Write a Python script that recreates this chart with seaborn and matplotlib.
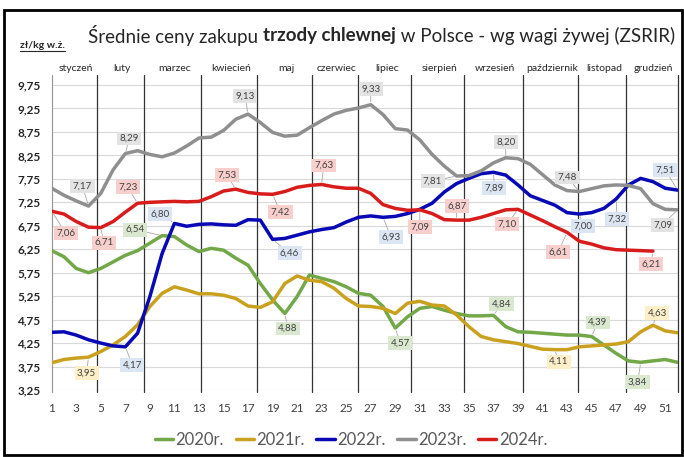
import numpy as np
import pandas as pd
import matplotlib
matplotlib.use("Agg")
import matplotlib.pyplot as plt
import matplotlib.transforms as mtransforms
from matplotlib.lines import Line2D
import seaborn as sns

# ---------------- data ----------------
weeks = list(range(1, 53))
y2020 = [6.22, 6.09, 5.84, 5.75, 5.84, 5.98, 6.12, 6.22, 6.38, 6.54, 6.52, 6.34, 6.20,
         6.27, 6.23, 6.06, 5.91, 5.52, 5.17, 4.88, 5.24, 5.70, 5.63, 5.56, 5.45, 5.31,
         5.27, 5.03, 4.57, 4.81, 4.99, 5.03, 4.95, 4.88, 4.83, 4.83, 4.84, 4.60, 4.49,
         4.48, 4.46, 4.44, 4.42, 4.42, 4.39, 4.21, 4.03, 3.87, 3.84, 3.87, 3.90, 3.84]
y2021 = [3.83, 3.90, 3.93, 3.95, 4.07, 4.21, 4.39, 4.64, 5.03, 5.31, 5.45, 5.38, 5.30,
         5.30, 5.27, 5.20, 5.04, 5.01, 5.13, 5.52, 5.68, 5.59, 5.56, 5.42, 5.20, 5.04,
         5.03, 4.99, 4.88, 5.10, 5.14, 5.06, 5.04, 4.85, 4.60, 4.39, 4.32, 4.28, 4.24,
         4.18, 4.12, 4.11, 4.11, 4.17, 4.19, 4.21, 4.23, 4.28, 4.49, 4.63, 4.51, 4.47]
y2022 = [4.48, 4.49, 4.42, 4.32, 4.25, 4.19, 4.17, 4.46, 5.24, 6.16, 6.80, 6.74, 6.78,
         6.79, 6.77, 6.76, 6.88, 6.87, 6.46, 6.48, 6.55, 6.62, 6.67, 6.71, 6.83, 6.93,
         6.96, 6.93, 6.95, 7.01, 7.10, 7.23, 7.47, 7.65, 7.76, 7.86, 7.89, 7.83, 7.62,
         7.39, 7.29, 7.19, 7.03, 7.00, 7.03, 7.12, 7.32, 7.62, 7.76, 7.69, 7.55, 7.51]
y2023 = [7.55, 7.40, 7.28, 7.17, 7.44, 7.94, 8.29, 8.35, 8.27, 8.22, 8.30, 8.45, 8.62,
         8.64, 8.78, 9.02, 9.13, 8.95, 8.74, 8.66, 8.68, 8.84, 8.99, 9.13, 9.21, 9.26,
         9.33, 9.12, 8.82, 8.79, 8.58, 8.27, 8.02, 7.81, 7.82, 7.92, 8.09, 8.20, 8.18,
         8.06, 7.84, 7.62, 7.50, 7.48, 7.54, 7.60, 7.62, 7.61, 7.54, 7.22, 7.10, 7.09]
y2024 = [7.06, 7.00, 6.84, 6.72, 6.71, 6.84, 7.04, 7.23, 7.25, 7.26, 7.27, 7.26, 7.27,
         7.37, 7.49, 7.53, 7.46, 7.43, 7.42, 7.48, 7.57, 7.61, 7.63, 7.58, 7.55, 7.55,
         7.44, 7.20, 7.12, 7.08, 7.09, 7.01, 6.88, 6.87, 6.87, 6.93, 7.01, 7.09, 7.10,
         6.98, 6.86, 6.73, 6.61, 6.42, 6.36, 6.28, 6.24, 6.23, 6.22, 6.21]

series_names = ["2020r.", "2021r.", "2022r.", "2023r.", "2024r."]
months = ["styczeń", "luty", "marzec", "kwiecień", "maj", "czerwiec", "lipiec",
          "sierpień", "wrzesień", "październik", "listopad", "grudzień"]
x_ticks = list(range(1, 52, 2))
y_ticks = [3.25, 3.75, 4.25, 4.75, 5.25, 5.75, 6.25, 6.75, 7.25, 7.75, 8.25, 8.75, 9.25, 9.75]
y_tick_labels = ["3,25", "3,75", "4,25", "4,75", "5,25", "5,75", "6,25", "6,75",
                 "7,25", "7,75", "8,25", "8,75", "9,25", "9,75"]

# labelled weeks per series
label_weeks = {
    "2020r.": [10, 20, 29, 37, 45, 49],
    "2021r.": [4, 42, 50],
    "2022r.": [7, 11, 19, 28, 37, 44, 47, 52],
    "2023r.": [4, 7, 17, 27, 34, 38, 44, 52],
    "2024r.": [1, 5, 8, 16, 19, 23, 31, 34, 39, 43, 50],
}

# ---------------- layout / style ----------------
month_edges = [1, 4.67, 8.52, 13.17, 17.7, 22.2, 26.0, 30.3, 34.6, 39.4, 43.9, 47.8, 52]
colors = {"2020r.": "#72a847", "2021r.": "#c9a11f", "2022r.": "#0808b4",
          "2023r.": "#8f8f8f", "2024r.": "#d81c1c"}
box_colors = {"2020r.": "#dbe8d0", "2021r.": "#fdf0c8", "2022r.": "#dce5f2",
              "2023r.": "#e3e3e3", "2024r.": "#f7cfcc"}
# label offsets in pixels (dx right, dy down)
label_offsets = {
    "2020r.": [(-27, -6), (3, 15), (5, 15), (8, -11), (6, -14), (-3, 20)],
    "2021r.": [(-2, 16), (4, 12), (4, -12)],
    "2022r.": [(7, 18), (-14, -9), (17, 14), (8, 20), (1, 16), (4, 12), (1, 20), (-12, -20)],
    "2023r.": [(-6, -20), (4, -15), (-3, -18), (0, -16), (-24, 5), (0, -16), (-12, -14), (-15, 15)],
    "2024r.": [(14, 22), (3, 15), (-10, -16), (-9, -14), (8, 18), (2, -19), (0, 17),
               (0, -14), (-11, 15), (-9, 20), (-2, 13)],
}

data = {"2020r.": y2020, "2021r.": y2021, "2022r.": y2022, "2023r.": y2023, "2024r.": y2024}
frames = [pd.DataFrame({"week": weeks[:len(v)], "price": v, "year": k}) for k, v in data.items()]
df = pd.concat(frames, ignore_index=True)

sns.set_theme(style="white")
FONT = ["Lato", "DejaVu Sans"]
plt.rcParams["font.family"] = FONT

W, H = 684, 457
fig = plt.figure(figsize=(W / 100, H / 100), dpi=100)
ax = fig.add_axes([51.7 / W, (H - 390) / H, 625.8 / W, 315 / H])

sns.lineplot(data=df, x="week", y="price", hue="year", palette=colors,
             linewidth=2.5, ax=ax, legend=False, zorder=3, sort=True)

ax.set_xlim(1, 52)
ax.set_ylim(3.25, 9.75 + 10 / 46.92)
ax.set_yticks(y_ticks)
ax.set_yticklabels(y_tick_labels, fontsize=8.5, fontweight="bold", color="#262626")
ax.set_xticks(x_ticks)
ax.set_xticklabels([str(t) for t in x_ticks], fontsize=8.5, color="#404040")
ax.tick_params(axis="both", length=0)
ax.tick_params(axis="x", pad=9)
ax.tick_params(axis="y", pad=8)
ax.yaxis.grid(True, color="#d9d9d9", linewidth=0.8)
ax.xaxis.grid(False)
ax.set_axisbelow(True)
ax.set_xlabel("")
ax.set_ylabel("")
for s in ax.spines.values():
    s.set_visible(False)

# month separators
for i, e in enumerate(month_edges):
    col = "#9a9a9a" if i == 0 else "#333333"
    ax.axvline(e, ymin=-0.006, ymax=1.0, color=col, linewidth=0.9, zorder=2, clip_on=False)

trans = mtransforms.blended_transform_factory(ax.transData, ax.transAxes)
for m, a, b in zip(months, month_edges[:-1], month_edges[1:]):
    ax.text((a + b) / 2 + 0.15, 1.02, m, transform=trans, ha="center", va="center",
            fontsize=7.5, color="#262626")

# data labels
for name, wks in label_weeks.items():
    vals = data[name]
    for w, (dx, dy) in zip(wks, label_offsets[name]):
        v = vals[w - 1]
        ax.annotate(f"{v:.2f}".replace(".", ","), xy=(w, v), xytext=(dx, -dy),
                    textcoords="offset pixels", ha="center", va="center",
                    fontsize=7, color="#404040", zorder=5,
                    bbox=dict(boxstyle="square,pad=0.25", fc=box_colors[name], ec="none"),
                    arrowprops=dict(arrowstyle="-", color="#a6a6a6", lw=0.6,
                                    shrinkA=0, shrinkB=2))

# legend
handles = [Line2D([0], [0], color=colors[n], lw=2.5) for n in series_names]
leg = fig.legend(handles, series_names, loc="center", ncol=5,
                 bbox_to_anchor=(351 / W, 1 - 440 / H), frameon=False,
                 handlelength=1.1, handletextpad=0.15, columnspacing=0.7,
                 prop={"family": FONT, "size": 12})
for t in leg.get_texts():
    t.set_color("#595959")

# title (mixed weight)
fig.canvas.draw()
renderer = fig.canvas.get_renderer()
ty = 1 - 36 / H
x = 88 / W
for txt, wt in [("Średnie ceny zakupu ", "normal"), ("trzody chlewnej", "bold"),
                (" w Polsce - wg wagi żywej (ZSRIR)", "normal")]:
    t = fig.text(x, ty, txt, fontsize=13.5, fontweight=wt, color="#262626",
                 ha="left", va="center")
    bb = t.get_window_extent(renderer=renderer)
    x += bb.width / W

unit = fig.text(20 / W, 1 - 45 / H, "zł/kg w.ż.", fontsize=7.5, fontweight="bold",
                color="#262626", ha="left", va="center")
ub = unit.get_window_extent(renderer=renderer)
fig.add_artist(Line2D([ub.x0 / W, ub.x1 / W], [(ub.y0 - 1) / H, (ub.y0 - 1) / H],
                      color="#262626", lw=0.8))

# outer frame
fig.add_artist(plt.Rectangle((4 / W, 2 / H), 678 / W, 445 / H, fill=False,
                             edgecolor="black", linewidth=2, transform=fig.transFigure))

fig.savefig("out.png", dpi=100)
